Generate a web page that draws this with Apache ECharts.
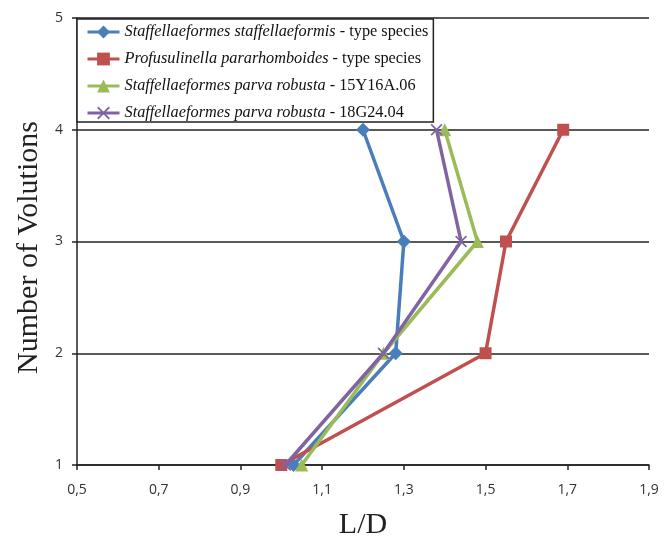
<!DOCTYPE html>
<html>
<head>
<meta charset="utf-8">
<script src="https://cdn.jsdelivr.net/npm/echarts@6/dist/echarts.min.js"></script>
<style>
    html, body { margin: 0; padding: 0; background: #fff; }
    #chart { width: 672px; height: 537px; }
</style>
</head>
<body>
<div id="chart"></div>
<script>
// number of volutions (y) and L/D per volution (x)
var volutions = [1, 2, 3, 4];
var staffellaeformisLD = [1.03, 1.28, 1.30, 1.20];
var pararhomboidesLD = [1.00, 1.50, 1.55, 1.69];
var robusta15Y16LD = [1.05, 1.25, 1.48, 1.40];
var robusta18G24LD = [1.01, 1.25, 1.44, 1.38];

var xTicks = [0.5, 0.7, 0.9, 1.1, 1.3, 1.5, 1.7, 1.9];
var yTicks = [1, 2, 3, 4, 5];

var seriesNames = [
    'Staffellaeformes staffellaeformis|type species',
    'Profusulinella pararhomboides|type species',
    'Staffellaeformes parva robusta|15Y16A.06',
    'Staffellaeformes parva robusta|18G24.04'
];

function pairs(xs) {
    return xs.map(function(x, i) { return [x, volutions[i]]; });
}

var crossPath = 'path://M0,1 L1,0 L5,4 L9,0 L10,1 L6,5 L10,9 L9,10 L5,6 L1,10 L0,9 L4,5 Z';

var colors = ['#4A7EBB', '#C0504D', '#9BBB59', '#8064A2'];
var symbols = ['diamond', 'rect', 'triangle', crossPath];
var symbolSizes = [14, 12, 13, 12];
var allData = [staffellaeformisLD, pararhomboidesLD, robusta15Y16LD, robusta18G24LD];

var series = [];
for (var i = 0; i < seriesNames.length; i++) {
    series.push({
        name: seriesNames[i],
        type: 'line',
        data: pairs(allData[i]),
        symbol: symbols[i],
        symbolSize: symbolSizes[i],
        showAllSymbol: true,
        lineStyle: { color: colors[i], width: 3.5 },
        itemStyle: { color: colors[i] },
        z: 3 + i
    });
}

var chart = echarts.init(document.getElementById('chart'), null, { renderer: 'canvas' });

chart.setOption({
    animation: false,
    backgroundColor: '#fff',
    grid: { left: 77, right: 23, top: 18, bottom: 72, containLabel: false, outerBoundsMode: 'none' },
    legend: {
        orient: 'vertical',
        left: 77,
        top: 19,
        backgroundColor: '#fff',
        borderColor: '#222',
        borderWidth: 1.5,
        borderRadius: 0,
        padding: [5, 5, 1, 9],
        itemGap: 11,
        itemWidth: 32,
        itemHeight: 16,
        lineStyle: { width: 3 },
        data: seriesNames,
        formatter: function(name) {
            var parts = name.split('|');
            return '{i|' + parts[0] + '}{n| - ' + parts[1] + '}';
        },
        textStyle: {
            rich: {
                i: { fontFamily: 'Liberation Serif', fontStyle: 'italic', fontSize: 16.3, color: '#111', lineHeight: 16 },
                n: { fontFamily: 'Liberation Serif', fontSize: 16.3, color: '#111', lineHeight: 16 }
            }
        },
        z: 10
    },
    xAxis: {
        type: 'value',
        min: 0.5,
        max: 1.9,
        interval: 0.2,
        name: 'L/D',
        nameLocation: 'middle',
        nameGap: 45,
        nameTextStyle: { fontFamily: 'Liberation Serif', fontSize: 30, color: '#222' },
        axisLine: { show: true, onZero: false, lineStyle: { color: '#222', width: 1.5 } },
        axisTick: { show: true, inside: false, length: 5, lineStyle: { color: '#222', width: 1.5 } },
        axisLabel: {
            margin: 18,
            fontFamily: 'Open Sans',
            fontSize: 14,
            color: '#333',
            formatter: function(v) { return v.toFixed(1).replace('.', ','); }
        },
        splitLine: { show: false }
    },
    yAxis: {
        type: 'value',
        min: 1,
        max: 5,
        interval: 1,
        name: 'Number of Volutions',
        nameLocation: 'middle',
        nameGap: 32,
        nameTextStyle: { fontFamily: 'Liberation Serif', fontSize: 30, color: '#222', padding: [0, 12, 0, 0] },
        axisLine: { show: true, lineStyle: { color: '#222', width: 1.5 } },
        axisTick: { show: true, inside: false, length: 5, lineStyle: { color: '#222', width: 1.5 } },
        axisLabel: {
            margin: 14,
            fontFamily: 'Open Sans',
            fontSize: 14,
            color: '#333'
        },
        splitLine: { show: true, lineStyle: { color: '#222', width: 1.5 } }
    },
    series: series
});
</script>
</body>
</html>
